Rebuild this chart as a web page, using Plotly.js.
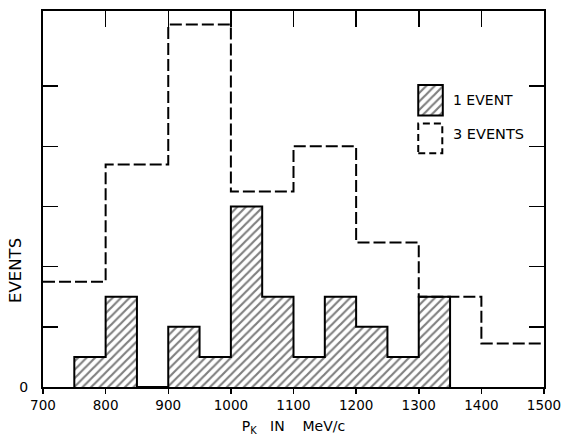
<!DOCTYPE html>
<html>
<head>
<meta charset="utf-8">
<script src="https://cdn.plot.ly/plotly-3.0.1.min.js"></script>
<style>html,body{margin:0;padding:0;background:#fff;}#chart{width:566px;height:436px;}</style>
</head>
<body>
<div id="chart"></div>
<script>
// Data
const fineEdges = [750, 800, 850, 900, 950, 1000, 1050, 1100, 1150, 1200, 1250, 1300, 1350];
const oneEventCounts = [1, 3, 0, 2, 1, 6, 3, 1, 3, 2, 1, 3];
const coarseEdges = [700, 800, 900, 1000, 1100, 1200, 1300, 1400, 1500];
const threeEventCounts = [3.5, 7.4, 12.05, 6.5, 8, 4.8, 3, 1.45];
const xTickVals = [700, 800, 900, 1000, 1100, 1200, 1300, 1400, 1500];
const xTickText = ["700", "800", "900", "1000", "1100", "1200", "1300", "1400", "1500"];
const yLabelVals = [0];
const yLabelText = ["0"];
const yTickMarks = [2, 4, 6, 8, 10];
const legendLabels = ["1 EVENT", "3 EVENTS"];

// derived
const fineMids = oneEventCounts.map((_, i) => (fineEdges[i] + fineEdges[i + 1]) / 2);
const fineWidths = oneEventCounts.map((_, i) => fineEdges[i + 1] - fineEdges[i]);
const outlineX = [fineEdges[0]].concat(fineEdges);
const outlineY = [0].concat(oneEventCounts, [0]);
const dashX = coarseEdges.slice();
const dashY = threeEventCounts.concat([threeEventCounts[threeEventCounts.length - 1]]);

const FONT = "DejaVu Sans, Liberation Sans, sans-serif";
const pattern = {shape: "/", size: 6, solidity: 0.36, fgcolor: "#000", bgcolor: "#fff", fillmode: "overlay"};
const Y_RANGE = [0, 12.5];
const X_RANGE = [700, 1500];

const traces = [
  {type: "bar", x: fineMids, y: oneEventCounts, width: fineWidths,
   marker: {color: "#fff", pattern: pattern, line: {width: 0}},
   xaxis: "x", yaxis: "y", showlegend: false, hoverinfo: "skip"},
  {type: "scatter", mode: "lines", x: outlineX, y: outlineY,
   line: {color: "#000", width: 2, shape: "hv"}, xaxis: "x", yaxis: "y",
   showlegend: false, hoverinfo: "skip"},
  {type: "scatter", mode: "lines", x: dashX, y: dashY,
   line: {color: "#000", width: 2, shape: "hv", dash: "12px,4px"}, xaxis: "x2", yaxis: "y4",
   showlegend: false, hoverinfo: "skip"},
  // legend hatched swatch (plot-fraction axes)
  {type: "bar", x: [0.7735], y: [0.081], base: [0.722], width: [0.049],
   marker: {color: "#fff", pattern: pattern, line: {width: 0}},
   xaxis: "x3", yaxis: "y3", showlegend: false, hoverinfo: "skip"}
];

const layout = {
  width: 566, height: 436,
  margin: {l: 43, r: 22, t: 11, b: 49},
  paper_bgcolor: "#fff", plot_bgcolor: "#fff",
  font: {family: FONT, color: "#000", size: 14},
  bargap: 0,
  showlegend: false,
  xaxis: {range: X_RANGE, tickvals: xTickVals, ticktext: xTickText, ticks: "outside",
          ticklen: 5, tickwidth: 1.5, tickcolor: "#000",
          showline: true, linecolor: "#000", linewidth: 2, mirror: true, showgrid: false,
          zeroline: false, tickfont: {size: 13.5, family: FONT}, ticklabelstandoff: 0,
          title: {text: "P<sub>K</sub>   IN    MeV/c", font: {size: 14, family: FONT}, standoff: 10}},
  xaxis2: {range: X_RANGE, overlaying: "x", side: "top", anchor: "y4",
           tickvals: [800, 900, 1000, 1100, 1200, 1300, 1400], ticks: "inside", ticklen: 16,
           tickwidth: 1.5, tickcolor: "#000", showticklabels: false, showgrid: false,
           zeroline: false, showline: false},
  yaxis: {range: Y_RANGE, tickvals: yLabelVals, ticktext: yLabelText, ticks: "",
          showline: true, linecolor: "#000",
          linewidth: 2, mirror: true, showgrid: false, zeroline: false,
          tickfont: {size: 14, family: FONT}, ticklabelstandoff: 10},
  yaxis4: {range: Y_RANGE, overlaying: "y", anchor: "x2", side: "left",
           tickvals: yTickMarks, ticks: "inside", ticklen: 15, tickwidth: 1.5, tickcolor: "#000",
           mirror: "ticks", showline: false, showticklabels: false, showgrid: false, zeroline: false},
  xaxis3: {range: [0, 1], overlaying: "x", anchor: "y3", visible: false, fixedrange: true},
  yaxis3: {range: [0, 1], overlaying: "y", anchor: "x3", visible: false, fixedrange: true},
  shapes: [
    {type: "rect", xref: "paper", yref: "paper", x0: 0.749, x1: 0.798, y0: 0.722, y1: 0.803,
     line: {color: "#000", width: 2}},
    {type: "rect", xref: "paper", yref: "paper", x0: 0.749, x1: 0.797, y0: 0.622, y1: 0.7005,
     line: {color: "#000", width: 2, dash: "7px,4px"}}
  ],
  annotations: [
    {xref: "paper", yref: "paper", x: 0.814, y: 0.7625, xanchor: "left", yanchor: "middle",
     text: legendLabels[0], showarrow: false, font: {size: 14, family: FONT}},
    {xref: "paper", yref: "paper", x: 0.814, y: 0.672, xanchor: "left", yanchor: "middle",
     text: legendLabels[1], showarrow: false, font: {size: 14.5, family: FONT}},
    {xref: "paper", yref: "paper", x: -0.055, y: 0.31, xanchor: "center", yanchor: "middle",
     text: "EVENTS", textangle: -90, showarrow: false, font: {size: 16.5, family: FONT}}
  ]
};

Plotly.newPlot("chart", traces, layout, {staticPlot: true, displayModeBar: false});
</script>
</body>
</html>
